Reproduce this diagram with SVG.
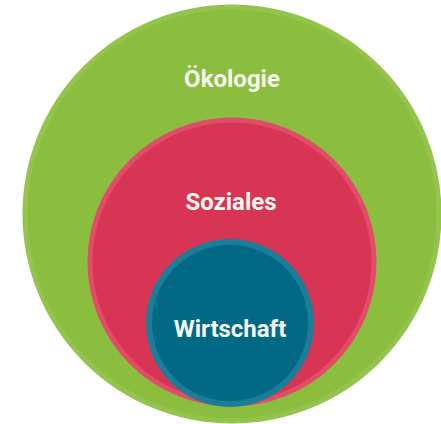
<svg xmlns="http://www.w3.org/2000/svg" width="441" height="424" viewBox="0 0 441 424">
<style>
.lbl{font-family:"Roboto","Liberation Sans",sans-serif;font-weight:bold;font-size:24px;text-anchor:middle;fill:#f4f7ee}
</style>
<rect width="441" height="424" fill="#ffffff"/>
<g id="oekologie">
<circle cx="232" cy="214" r="207" fill="#8bbd3f" stroke="#95c44c" stroke-width="5"/>
<text class="lbl" x="232" y="87">Ökologie</text>
</g>
<g id="soziales">
<circle cx="232" cy="262" r="142" fill="#d83453" stroke="#e24b69" stroke-width="5"/>
<text class="lbl" x="231" y="210">Soziales</text>
</g>
<g id="wirtschaft">
<circle cx="230" cy="323" r="81" fill="#016885" stroke="#1b7e98" stroke-width="6"/>
<text class="lbl" x="230" y="337" fill="#ffffff">Wirtschaft</text>
</g>
<g id="connectors"/>
</svg>
